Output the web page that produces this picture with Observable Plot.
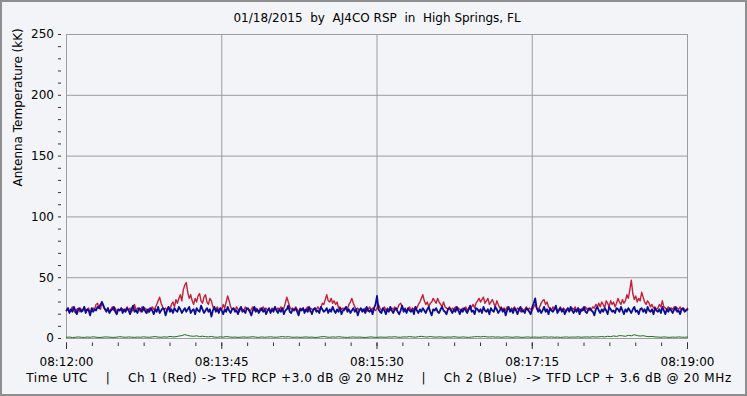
<!DOCTYPE html>
<html><head><meta charset="utf-8">
<script src="https://cdn.jsdelivr.net/npm/d3@7"></script>
<script src="https://cdn.jsdelivr.net/npm/@observablehq/plot@0.6"></script>
<style>
html,body{margin:0;padding:0;background:#f3f4f7;}
#chart svg{display:block;white-space:pre;outline:2px solid #8e8e8e;outline-offset:-2px;}
</style>
</head><body><div id="chart"></div>
<script>
const titleText = "01/18/2015  by  AJ4CO RSP  in  High Springs, FL";
const captionText = "Time UTC    |    Ch 1 (Red) -> TFD RCP +3.0 dB @ 20 MHz    |    Ch 2 (Blue)  -> TFD LCP + 3.6 dB @ 20 MHz";
const yLabelText = "Antenna Temperature (kK)";
const dateStr = "2015-01-18";
const xTickLabels = ["08:12:00","08:13:45","08:15:30","08:17:15","08:19:00"];
const yTickValues = [0,50,100,150,200,250];

// Ch 1 (Red), one sample per second from 08:12:00
const ch1Red = [
23,25,22,24,26,23,21,24,25,22,24,23,26,22,24,25,21,23,25,24,
28,29,25,24,30,26,24,23,25,22,24,26,23,25,22,24,23,25,24,22,
24,26,23,25,22,24,28,23,25,24,22,26,23,25,24,21,25,23,26,24,
25,28,31,34,29,26,24,25,23,26,24,28,30,26,32,29,33,36,31,40,
44,46,38,33,36,31,28,33,30,35,37,31,29,34,36,30,28,33,31,26,
25,24,26,23,25,24,28,25,30,35,31,26,24,25,23,26,24,22,25,24,
23,26,24,25,22,24,26,23,25,24,22,25,23,26,24,25,23,24,22,25,
24,26,23,25,24,26,23,25,29,34,30,26,24,25,23,26,24,22,25,24,
25,23,24,26,22,25,24,23,25,24,26,24,25,29,28,32,36,31,30,33,
29,31,28,30,25,26,24,25,23,26,24,28,30,33,29,26,24,25,23,24,
24,23,25,22,24,26,23,25,24,23,25,28,25,23,24,26,23,25,24,23,
25,24,26,23,25,28,29,26,24,25,23,24,26,23,25,24,26,25,28,30,
33,36,31,28,30,26,29,30,33,31,29,33,30,28,26,30,26,25,24,26,
23,25,24,26,23,25,24,22,25,24,26,23,25,24,26,28,25,29,31,33,
30,32,34,29,31,33,28,30,32,29,26,31,28,25,26,24,25,23,26,24,
23,25,24,26,23,25,24,22,25,23,24,26,23,25,24,23,26,28,25,24,
26,29,31,32,28,30,26,25,23,26,24,25,23,24,26,23,25,24,22,25,
24,23,25,24,26,23,25,24,22,25,23,26,24,25,23,24,26,25,28,26,
29,26,30,28,25,31,29,26,31,28,30,26,29,33,30,28,32,29,31,36,
33,40,48,37,32,35,30,33,31,38,34,30,28,31,29,26,28,25,26,24,
25,28,26,31,26,25,24,26,23,25,24,26,23,25,24,26,23,25,24,23,25
];

// Ch 2 (Blue), one sample per second from 08:12:00
const ch2Blue = [
23,25,21,24,22,26,23,20,24,25,22,23,26,21,24,23,19,25,22,24,
23,26,25,28,30,27,24,22,25,21,23,24,26,22,20,24,23,25,21,24,
22,25,23,20,24,27,22,23,21,25,24,22,26,23,21,24,22,25,23,20,
24,22,26,21,23,25,24,19,23,26,22,24,21,25,23,22,26,24,21,23,
25,22,24,26,21,23,24,20,25,23,22,27,24,21,23,25,22,24,18,23,
26,22,24,21,25,23,20,24,22,26,23,21,24,25,22,23,20,24,26,22,
23,21,25,24,22,19,23,26,22,24,21,23,25,22,24,20,23,25,21,24,
22,26,23,21,24,22,25,20,23,24,27,22,21,24,23,25,22,19,24,23,
25,21,24,22,26,23,20,24,25,22,23,21,26,24,22,23,25,21,24,22,
26,23,21,24,22,25,20,23,24,26,22,24,21,23,25,22,24,19,23,25,
22,24,21,26,23,22,24,20,25,28,35,24,22,21,25,23,20,24,22,26,
23,21,24,25,22,20,23,27,22,24,21,25,23,22,24,20,26,23,21,24,
22,25,23,21,24,26,22,19,24,23,25,22,21,24,26,23,22,20,24,25,
23,21,24,22,26,23,20,24,22,25,23,21,24,27,22,23,20,25,24,22,
24,21,26,23,22,24,20,25,23,22,26,24,21,23,25,22,24,19,23,26,
22,24,21,25,23,20,24,26,22,23,21,25,24,22,20,26,29,33,25,22,
24,21,23,26,22,24,20,25,23,22,24,27,21,23,25,22,24,20,23,25,
22,26,23,21,24,22,25,20,24,23,26,22,21,24,25,23,22,19,24,26,
23,21,24,22,25,23,20,26,24,22,23,21,25,24,22,26,23,20,24,22,
25,23,21,24,26,22,23,20,24,25,22,24,21,26,23,22,24,20,25,23,
22,24,21,26,23,20,24,22,25,23,21,24,26,22,23,20,24,25,22,23,24
];

// Green trace, one sample every two seconds from 08:12:00
const ch3Green = [
1,1.2,0.8,1,1.3,1,0.9,1.2,1,1.4,1.1,0.8,1,1.3,1.2,1,0.9,1.1,1.5,1.2,
1,1.3,1.1,0.9,1.2,1,1.4,1.1,1,1.3,1.6,1.2,1,1.4,1.1,1.7,1.3,1.5,2,2.4,
3.2,2.5,2,1.8,2.2,1.6,1.9,1.5,1.3,1.7,1.2,1,1.4,1.1,1.6,1.3,1,1.2,0.9,1.1,
1.3,1,1.2,1.5,1.1,0.9,1.3,1,1.2,1.4,1.1,1,1.3,1.6,1.2,1.5,1.1,1,1.2,0.9,
1.1,1.3,1,1.2,0.8,1,1.4,1.6,1.2,1,1.3,1.1,1.5,1.2,1,0.9,1.1,1.3,1,1.2,
1,0.8,1.1,1.3,1,0.9,1.2,1.1,1,1.3,1.2,1.5,1.1,1,1.4,1.2,1.6,1.3,1.1,1.5,
1.8,1.4,1.2,1.6,1.3,1.1,1.4,1.2,1,1.3,1.1,1.5,1.2,1,1.3,1.1,0.9,1.2,1.4,1.6,
1.3,1.7,1.4,1.2,1.5,1.1,1.3,1,1.2,1.4,1.1,1,1.3,1.2,0.9,1.1,1.3,1,1.2,1.1,
1,1.2,1.4,1.1,1.3,1,1.2,0.9,1.1,1.3,1,1.2,1.1,1.4,1,1.2,1.3,1.1,1.5,1.2,
1.4,1.6,1.3,1.8,1.5,2.1,1.7,2.4,2.2,1.8,2.6,2.2,3.1,2.4,2,2.3,1.8,1.5,1.7,1.3,
1.2,1,1.3,1.1,0.9,1.2,1,1.3,1.1,1,1.2
];

const toDate = s => new Date(`${dateStr}T${s}Z`);
const xMajor = xTickLabels.map(toDate);
const t0 = xMajor[0], t1 = xMajor[xMajor.length - 1];
const xMinor = d3.range(0, 421, 17.5).map(s => new Date(+t0 + s * 1000));
const yMinor = d3.range(0, 251, 10);

const redData = ch1Red.map((v, i) => ({t: new Date(+t0 + i * 1000), v}));
const blueData = ch2Blue.map((v, i) => ({t: new Date(+t0 + i * 1000), v}));
const greenData = ch3Green.map((v, i) => ({t: new Date(+t0 + i * 2000), v}));

const gridColor = "#9d9d9d";
const fmt = d3.utcFormat("%H:%M:%S");
const font = "'DejaVu Sans', Verdana, sans-serif";

const chart = Plot.plot({
  width: 747,
  height: 396,
  marginLeft: 66,
  marginRight: 60,
  marginTop: 34,
  marginBottom: 58,
  style: {background: "#f3f4f7", fontFamily: font, fontSize: "12px", color: "#000", overflow: "visible"},
  x: {type: "utc", domain: [t0, t1], label: null},
  y: {domain: [0, 250], label: null},
  marks: [
    Plot.gridY(yTickValues.slice(1, -1), {stroke: gridColor, strokeOpacity: 1}),
    Plot.gridX(xMajor.slice(1, -1), {stroke: gridColor, strokeOpacity: 1}),
    Plot.frame({stroke: gridColor}),
    Plot.line(redData, {x: "t", y: "v", stroke: "#c41f38", strokeWidth: 1.4}),
    Plot.line(blueData, {x: "t", y: "v", stroke: "#0b0b94", strokeWidth: 1.8}),
    Plot.line(greenData, {x: "t", y: "v", stroke: "#1f6e1f", strokeWidth: 1}),
    Plot.axisY(yMinor, {tickSize: 3, dx: -5, tickFormat: () => "", stroke: "#333"}),
    Plot.axisY(yTickValues, {tickSize: 0, tickPadding: 12.5, fontSize: 12, fill: "#000"}),
    Plot.axisX(xMinor, {tickSize: 3.5, dy: 4.5, tickFormat: () => "", stroke: "#333"}),
    Plot.axisX(xMajor, {tickSize: 6.5, dy: 4.5, tickFormat: () => "", stroke: "#333"}),
    Plot.axisX(xMajor, {tickSize: 0, tickPadding: 19, tickFormat: fmt, fontSize: 12, fill: "#000"}),
    Plot.text([titleText], {frameAnchor: "top", dy: -16, lineAnchor: "middle", fontSize: 12, fill: "#000"}),
    Plot.text([captionText], {frameAnchor: "bottom", dy: 40, dx: 2, lineAnchor: "middle", fontSize: 12, fill: "#000"}),
    Plot.text([yLabelText], {frameAnchor: "left", dx: -48, rotate: -90, lineAnchor: "middle", fontSize: 12, fill: "#000"})
  ]
});
d3.select(chart).selectAll("text").filter(function () { return this.textContent === captionText; })
  .style("letter-spacing", "0.6px");
document.getElementById("chart").appendChild(chart);
</script>
</body></html>
